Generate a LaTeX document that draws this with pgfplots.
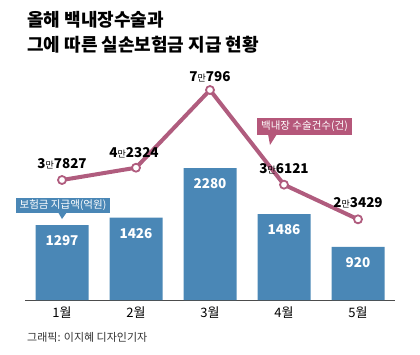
\documentclass[border=0pt]{standalone}
\usepackage{pgfplots}
\pgfplotsset{compat=1.18}
\usepackage{fontspec}
\setmainfont{Noto Sans CJK KR}
\definecolor{barblue}{HTML}{4A87B6}
\definecolor{linepink}{HTML}{B05C7E}
\definecolor{boxpink}{HTML}{B5577A}
\newcommand{\lbl}[2]{{\fontsize{13.5}{13.5}\selectfont\bfseries #1}{\fontsize{9}{9}\selectfont 만}{\fontsize{13.5}{13.5}\selectfont\bfseries #2}}
\begin{document}
\begin{tikzpicture}
\path[use as bounding box] (0,0) rectangle (420pt,-354pt);
% titles
\node[anchor=west, inner sep=0pt, font=\fontsize{18}{18}\selectfont\bfseries] at (27pt,-20pt) {올해 백내장수술과};
\node[anchor=west, inner sep=0pt, font=\fontsize{18}{18}\selectfont\bfseries] at (27pt,-45pt) {그에 따른 실손보험금 지급 현황};
% bars
\begin{axis}[
  at={(25pt,-300pt)}, anchor=south west,
  scale only axis, width=370pt, height=240pt,
  xmin=-0.5, xmax=4.5, ymin=0, ymax=4152,
  axis x line*=bottom, axis y line=none,
  axis line style={draw=black!70, line width=0.6pt, -},
  xtick={0,1,2,3,4},
  xticklabels={1월,2월,3월,4월,5월},
  xtick style={draw=none},
  extra x ticks={-0.5,0.5,1.5,2.5,3.5,4.5},
  extra x tick labels={},
  extra x tick style={tick style={draw=black!70, line width=0.6pt}, major tick length=3pt, tick align=outside},
  xticklabel style={font=\fontsize{13}{13}\selectfont, yshift=1pt},
  ybar, bar width=53pt,
  nodes near coords,
  /pgf/number format/1000 sep={},
  /pgf/number format/assume math mode=true,
  nodes near coords style={anchor=north, yshift=-7pt, text=white, font=\fontsize{13.5}{13.5}\selectfont\bfseries},
  clip=false,
]
\addplot[fill=barblue, draw=none] coordinates {(0,1297) (1,1426) (2,2280) (3,1486) (4,920)};
\end{axis}
% line
\begin{axis}[
  at={(25pt,-300pt)}, anchor=south west,
  scale only axis, width=370pt, height=240pt,
  xmin=-0.5, xmax=4.5, ymin=-6129, ymax=81783,
  hide axis, clip=false,
]
\addplot[linepink, line width=4pt, mark=*, mark size=4pt,
  mark options={fill=white, draw=linepink, line width=1.8pt}]
  coordinates {(0,37827) (1,42324) (2,70796) (3,36121) (4,23429)};
\node[anchor=south, inner sep=0pt] at (axis cs:0,37827) [yshift=11pt] {\lbl{3}{7827}};
\node[anchor=south, inner sep=0pt] at (axis cs:1,42324) [yshift=10pt, xshift=-2pt] {\lbl{4}{2324}};
\node[anchor=south, inner sep=0pt] at (axis cs:2,70796) [yshift=8pt] {\lbl{7}{796}};
\node[anchor=south, inner sep=0pt] at (axis cs:3,36121) [yshift=10pt] {\lbl{3}{6121}};
\node[anchor=south, inner sep=0pt] at (axis cs:4,23429) [yshift=11pt] {\lbl{2}{3429}};
\end{axis}
% callouts
\fill[barblue] (16pt,-198pt) rectangle (110pt,-213pt);
\fill[barblue] (58pt,-212pt) -- (67pt,-212pt) -- (62pt,-219pt) -- cycle;
\node[text=white, font=\fontsize{10.5}{10.5}\selectfont, inner sep=0pt] at (63pt,-205.5pt) {보험금 지급액(억원)};
\fill[boxpink] (257pt,-118pt) rectangle (352pt,-135pt);
\fill[boxpink] (268pt,-134pt) -- (277pt,-134pt) -- (270pt,-145pt) -- cycle;
\node[text=white, font=\fontsize{10.5}{10.5}\selectfont, inner sep=0pt] at (304.5pt,-126.5pt) {백내장 수술건수(건)};
% footer
\node[anchor=west, inner sep=0pt, text=black!80, font=\fontsize{11}{11}\selectfont] at (27pt,-337pt) {그래픽: 이지혜 디자인기자};
\end{tikzpicture}
\end{document}
